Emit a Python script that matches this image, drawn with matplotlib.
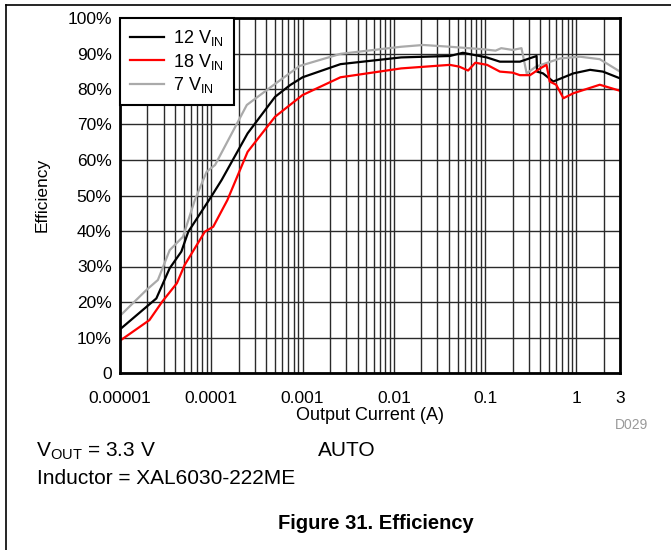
"""
Efficiency vs output current, three input voltages
"""
import matplotlib
matplotlib.use("Agg")
import matplotlib.pyplot as plt
from matplotlib.lines import Line2D
from matplotlib.ticker import FixedLocator, NullFormatter

plt.rcParams['font.family'] = ['Liberation Sans', 'DejaVu Sans']

# 12 V input
i_12v = [1e-5, 2.5e-5, 3.5e-5, 4.7e-5, 5.6e-5, 1e-4, 1.3e-4, 2.5e-4, 5e-4, 7.3e-4,
         1e-3, 2.6e-3, 0.012, 0.041, 0.057, 0.104, 0.145, 0.24, 0.366, 0.37,
         0.43, 0.557, 0.925, 1.41, 1.95, 3.0]
eff_12v = [12.3, 21.0, 29.5, 34.2, 39.8, 49.7, 54.4, 67.5, 77.8, 81.1,
           83.3, 87.0, 88.9, 89.3, 90.2, 88.9, 87.7, 87.7, 89.3, 84.9,
           84.4, 82.1, 84.4, 85.4, 84.9, 83.0]

# 18 V input
i_18v = [1e-5, 2.1e-5, 2.9e-5, 4.2e-5, 5.1e-5, 8.5e-5, 1.05e-4, 1.5e-4, 2.5e-4, 5e-4,
         1e-3, 2.6e-3, 0.012, 0.041, 0.052, 0.065, 0.078, 0.105, 0.145, 0.2,
         0.24, 0.31, 0.40, 0.47, 0.51, 0.60, 0.72, 0.925, 1.8, 3.0]
eff_18v = [9.1, 14.9, 20.1, 25.3, 30.4, 39.8, 41.2, 48.7, 62.3, 72.2,
           78.3, 83.3, 85.8, 86.8, 86.3, 85.2, 87.4, 86.8, 84.9, 84.6,
           83.9, 83.9, 85.8, 86.8, 82.1, 81.2, 77.4, 78.8, 81.2, 79.5]

# 7 V input
i_7v = [1e-5, 1.95e-5, 2.6e-5, 3.5e-5, 4.9e-5, 6.6e-5, 8.9e-5, 1.1e-4, 2.45e-4, 4.8e-4,
        9.3e-4, 2.6e-3, 0.012, 0.021, 0.041, 0.095, 0.13, 0.15, 0.2, 0.25,
        0.285, 0.36, 0.66, 1.09, 1.8, 3.0]
eff_7v = [16.1, 23.4, 26.2, 34.6, 38.4, 48.7, 56.7, 58.6, 75.5, 81.1,
          86.5, 89.9, 91.9, 92.4, 91.9, 91.2, 90.8, 91.5, 91.0, 91.5,
          84.4, 86.3, 88.6, 89.1, 88.4, 84.9]

x_ticks = [1e-5, 1e-4, 1e-3, 1e-2, 1e-1, 1, 3]
x_labels = ['0.00001', '0.0001', '0.001', '0.01', '0.1', '1', '3']
y_ticks = [0, 10, 20, 30, 40, 50, 60, 70, 80, 90, 100]
y_labels = ['0'] + ['%d%%' % v for v in y_ticks[1:]]

fig = plt.figure(figsize=(6.71, 5.5), dpi=100)
ax = fig.add_axes([120 / 671, 1 - 373 / 550, 500 / 671, 355 / 550])

ax.plot(i_12v, eff_12v, color='black', lw=1.6, label=r'12 V$_\mathregular{IN}$', zorder=4)
ax.plot(i_18v, eff_18v, color='#ff0000', lw=1.6, label=r'18 V$_\mathregular{IN}$', zorder=5)
ax.plot(i_7v, eff_7v, color='#aaaaaa', lw=1.6, label=r'7 V$_\mathregular{IN}$', zorder=3)

ax.set_xscale('log')
ax.set_xlim(1e-5, 3)
ax.set_ylim(0, 100)
ax.set_xticks(x_ticks)
ax.set_xticklabels(x_labels)
minors = [m * 10.0 ** d for d in range(-5, 1) for m in range(2, 10) if m * 10.0 ** d < 3]
ax.xaxis.set_minor_locator(FixedLocator(minors))
ax.xaxis.set_minor_formatter(NullFormatter())
ax.set_yticks(y_ticks)
ax.set_yticklabels(y_labels)

ax.grid(True, which='both', axis='x', color='#2a2a2a', lw=1.0)
ax.grid(True, which='major', axis='y', color='#2a2a2a', lw=1.0)
ax.tick_params(which='both', length=0, labelsize=12.5)
ax.tick_params(axis='x', pad=13)
ax.tick_params(axis='y', pad=6)
for sp in ax.spines.values():
    sp.set_linewidth(2)
    sp.set_zorder(6)

leg = ax.legend(loc='upper left', borderaxespad=0, fontsize=13, handlelength=1.9,
                handletextpad=0.5, labelspacing=0.2, fancybox=False, framealpha=1,
                edgecolor='black', borderpad=0.55)
leg.get_frame().set_linewidth(1.5)
leg.set_zorder(7)

fig.text(42 / 671, 1 - 195 / 550, 'Efficiency', rotation=90, ha='center', va='center',
         fontsize=12.5)
fig.text(370 / 671, 1 - 416 / 550, 'Output Current (A)', ha='center', va='center',
         fontsize=13)
fig.text(632 / 671, 1 - 425 / 550, 'D029', ha='center', va='center', fontsize=10,
         color='#999999')

fig.text(36 / 671, 1 - 456 / 550, r'V$_\mathregular{OUT}$ = 3.3 V', ha='left',
         va='baseline', fontsize=15)
fig.text(318 / 671, 1 - 456 / 550, 'AUTO', ha='left', va='baseline', fontsize=15)
fig.text(37 / 671, 1 - 484 / 550, 'Inductor = XAL6030-222ME', ha='left', va='baseline',
         fontsize=15)
fig.text(376 / 671, 1 - 529 / 550, 'Figure 31. Efficiency', ha='center', va='baseline',
         fontsize=14.5, fontweight='bold')

# page frame
fig.add_artist(Line2D([5.5 / 671, 5.5 / 671], [0, 1 - 5 / 550], color='black', lw=1.2,
                      transform=fig.transFigure))
fig.add_artist(Line2D([5.5 / 671, 1], [1 - 5 / 550, 1 - 5 / 550], color='black', lw=1.2,
                      transform=fig.transFigure))

fig.savefig('out.png', dpi=100)
